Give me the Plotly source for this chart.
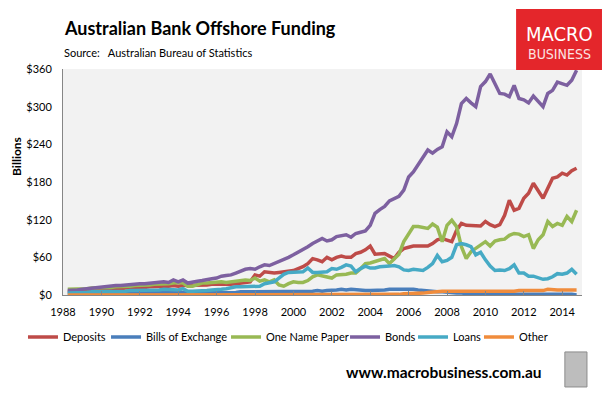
import plotly.graph_objects as go
import pandas as pd

# Quarterly observations, 1988 Q2 .. 2014 Q4 (A$ billions)
quarters = pd.date_range("1988-04-01", "2014-10-01", freq="QS")

deposits = [
    5, 5, 6,
    6, 7, 7, 8,   8, 9, 9, 10,   10, 11, 11, 12,   12, 12, 13, 13,
    13, 14, 14, 15,   14, 15, 15, 15,   16, 16, 16, 17,   17, 17, 16, 17,
    18, 19, 21, 21,   32, 30, 37, 36,   35, 36, 37, 38,   39, 42, 45, 50,
    58, 56, 53, 60,   56, 60, 62, 60,   60, 66, 68, 72,   78, 65, 66, 66,
    62, 58, 68, 74,   76, 78, 78, 78,   78, 82, 88, 90,   88, 85, 103, 114,
    111, 111, 110, 110,   117, 112, 109, 112,   127, 151, 135, 138,
    154, 162, 178, 165,   154, 170, 186, 188,   194, 191, 198, 202,
]
bills = [
    3, 3, 3,
    3, 3, 3, 3,   3, 3, 3, 3,   3, 3, 3, 3,   3, 4, 4, 4,
    4, 4, 4, 4,   4, 4, 4, 4,   4, 4, 4, 4,   4, 4, 4, 4,
    4, 5, 5, 5,   5, 5, 5, 5,   5, 5, 5, 5,   5, 6, 6, 6,
    6, 7, 6, 7,   7, 8, 9, 8,   9, 8, 7, 7,   7, 7, 8, 8,
    9, 9, 10, 10,   10, 9, 8, 7,   7, 6, 5, 5,   4, 3, 3, 3,
    2, 2, 2, 1,   1, 1, 1, 1,   1, 1, 1, 1,
    1, 1, 1, 1,   1, 1, 2, 2,   2, 2, 1, 0,
]
one_name_paper = [
    9, 9, 9,
    10, 10, 11, 11,   11, 12, 12, 13,   13, 14, 14, 15,   15, 16, 16, 17,
    17, 18, 18, 19,   20, 19, 14, 14,   17, 19, 19, 20,   21, 21, 20, 21,
    23, 24, 24, 23,   27, 22, 24, 21,   24, 16, 14, 18,   21, 20, 20, 23,
    29, 32, 30, 29,   27, 32, 32, 33,   35, 35, 42, 50,   51, 53, 55, 58,
    50, 57, 65, 85,   98, 109, 109, 108,   106, 113, 108, 85,   111, 119, 109, 77,
    58, 69, 74, 80,   85, 78, 86, 88,   89, 95, 98, 97,
    93, 96, 74, 88,   96, 117, 109, 114,   111, 125, 117, 135,
]
bonds = [
    7, 7, 8,
    9, 10, 11, 12,   13, 13, 14, 15,   15, 16, 17, 17,   18, 18, 19, 20,
    21, 21, 20, 24,   21, 24, 19, 21,   22, 23, 25, 26,   27, 30, 31, 32,
    35, 38, 41, 42,   41, 45, 48, 47,   50, 53, 56, 60,   64, 68, 72, 77,
    82, 86, 90, 86,   88, 93, 95, 96,   92, 98, 100, 102,   111, 130, 136, 141,
    150, 154, 157, 167,   188, 196, 207, 220,   231, 226, 232, 236,   260, 252, 273, 305,
    313, 306, 300, 332,   340, 352, 337, 321,   320, 316, 334, 313,
    311, 306, 317, 308,   300, 321, 326, 339,   336, 334, 342, 358,
]
loans = [
    3, 3, 4,
    4, 4, 5, 5,   5, 5, 6, 6,   6, 6, 7, 7,   7, 7, 8, 8,
    8, 9, 9, 8,   8, 10, 6, 6,   6, 6, 7, 8,   8, 9, 10, 12,
    13, 13, 13, 13,   13, 14, 18, 19,   21, 27, 33, 36,   36, 37, 37, 43,
    36, 36, 36, 37,   42, 41, 44, 48,   46, 37, 42, 46,   43, 43, 45, 45,
    46, 47, 45, 40,   39, 41, 40, 39,   44, 50, 63, 53,   55, 60, 80, 82,
    80, 77, 64, 68,   56, 46, 39, 40,   39, 42, 48, 35,
    35, 30, 30, 27,   25, 26, 29, 34,   33, 35, 41, 33,
]
other = [
    0, 0, 0,
    0, 0, 0, 0,   0, 0, 0, 0,   0, 0, 0, 0,   0, 0, 0, 0,
    0, 0, 0, 0,   0, 0, 0, 0,   0, 0, 0, 0,   0, 0, 0, 0,
    0, 0, 0, 0,   0, 0, 0, 0,   0, 0, 0, 0,   0, 0, 0, 0,
    0, 0, 0, 0,   0, 0, 0, 0,   0, 0, 0, 0,   0, 0, 0, 0,
    1, 1, 1, 2,   2, 2, 3, 3,   4, 5, 5, 6,   6, 6, 6, 6,
    6, 6, 6, 5,   5, 5, 6, 6,   6, 6, 6, 7,
    7, 7, 7, 7,   7, 9, 8, 8,   8, 8, 8, 8,
]

series_names = ["Deposits", "Bills of Exchange", "One Name Paper", "Bonds", "Loans", "Other"]
series_values = [deposits, bills, one_name_paper, bonds, loans, other]
series_colors = ["#BE4B48", "#4A7EBB", "#98B954", "#7D60A0", "#46AAC5", "#F08C3C"]

y_ticks = [0, 60, 120, 180, 240, 300, 360]
y_tick_labels = ["$0", "$60", "$120", "$180", "$240", "$300", "$360"]

FONT = "Lato, 'Open Sans', sans-serif"
NARROW = "'DejaVu Sans Condensed', 'Liberation Sans Narrow', Roboto, sans-serif"

# one legend box per entry so entries sit where the reference puts them
legend_ids = ["legend", "legend2", "legend3", "legend4", "legend5", "legend6"]
legend_x = [-0.0771, 0.0829, 0.3141, 0.5434, 0.6744, 0.8015]

fig = go.Figure()
for name, vals, col, lid in zip(series_names, series_values, series_colors, legend_ids):
    fig.add_trace(go.Scatter(x=quarters, y=vals, name=name, mode="lines",
                             line=dict(color=col, width=3.5), legend=lid))

legend_layout = {}
for lid, lx in zip(legend_ids, legend_x):
    legend_layout[lid] = dict(orientation="h", x=lx, xanchor="left", y=-0.1858, yanchor="middle",
                              itemwidth=30, font=dict(family=FONT, size=11, color="#000"),
                              bgcolor="rgba(0,0,0,0)", borderwidth=0)

fig.update_layout(
    width=607, height=394,
    margin=dict(l=63, r=25, t=69, b=99),
    paper_bgcolor="white",
    plot_bgcolor="#F2F2F2",
    font=dict(family=FONT, size=11, color="#000000"),
    showlegend=True,
    xaxis=dict(type="date", range=["1988-01-01", "2015-01-12"],
               tick0="1988-01-01", dtick="M24", tickformat="%Y",
               showgrid=False, zeroline=False, showline=True, linecolor="#868686",
               linewidth=1, ticks="inside", ticklen=4, tickcolor="#868686",
               ticklabelstandoff=7, tickfont=dict(size=11)),
    yaxis=dict(range=[0, 360], tickvals=y_ticks, ticktext=y_tick_labels,
               showgrid=False, zeroline=False, showline=True, linecolor="#868686",
               linewidth=1, ticks="", ticklabelstandoff=8, tickfont=dict(size=11)),
    **legend_layout,
)

# Titles and branding
fig.add_annotation(xref="paper", yref="paper", x=-0.002, y=1.181, xanchor="left", yanchor="middle",
                   text="<b>Australian Bank Offshore Funding</b>", showarrow=False,
                   font=dict(family=FONT, size=18, color="#000"))
fig.add_annotation(xref="paper", yref="paper", x=-0.002, y=1.075, xanchor="left", yanchor="middle",
                   text="Source:   Australian Bureau of Statistics", showarrow=False,
                   font=dict(family=FONT, size=11, color="#000"))
fig.add_annotation(xref="paper", yref="paper", x=-0.0886, y=0.611, xanchor="center", yanchor="middle",
                   text="<b>Billions</b>", textangle=-90, showarrow=False,
                   font=dict(family=FONT, size=12, color="#000"))
fig.add_annotation(xref="paper", yref="paper", x=0.734, y=-0.3407, xanchor="center", yanchor="middle",
                   text="<b>www.macrobusiness.com.au</b>", showarrow=False,
                   font=dict(family=FONT, size=15.5, color="#000"))

# MACRO BUSINESS logo box
fig.add_shape(type="rect", xref="paper", yref="paper", x0=0.873, x1=1.0385, y0=0.9956, y1=1.2655,
              fillcolor="#E4262B", line=dict(width=0), layer="above")
fig.add_annotation(xref="paper", yref="paper", x=0.9557, y=1.157, xanchor="center", yanchor="middle",
                   text="MACRO", showarrow=False,
                   font=dict(family=NARROW, size=20, color="white"))
fig.add_annotation(xref="paper", yref="paper", x=0.9557, y=1.066, xanchor="center", yanchor="middle",
                   text="BUSINESS", showarrow=False,
                   font=dict(family=NARROW, size=14, color="#FBE3E3"))

# wolf emblem placeholder
fig.add_shape(type="rect", xref="paper", yref="paper", x0=0.967, x1=1.0096, y0=-0.407, y1=-0.252,
              fillcolor="#BDBDBD", line=dict(color="#8C8C8C", width=1))

fig.write_html("out.html", config={"displayModeBar": False},
               post_script="document.body.style.margin='0px';")
